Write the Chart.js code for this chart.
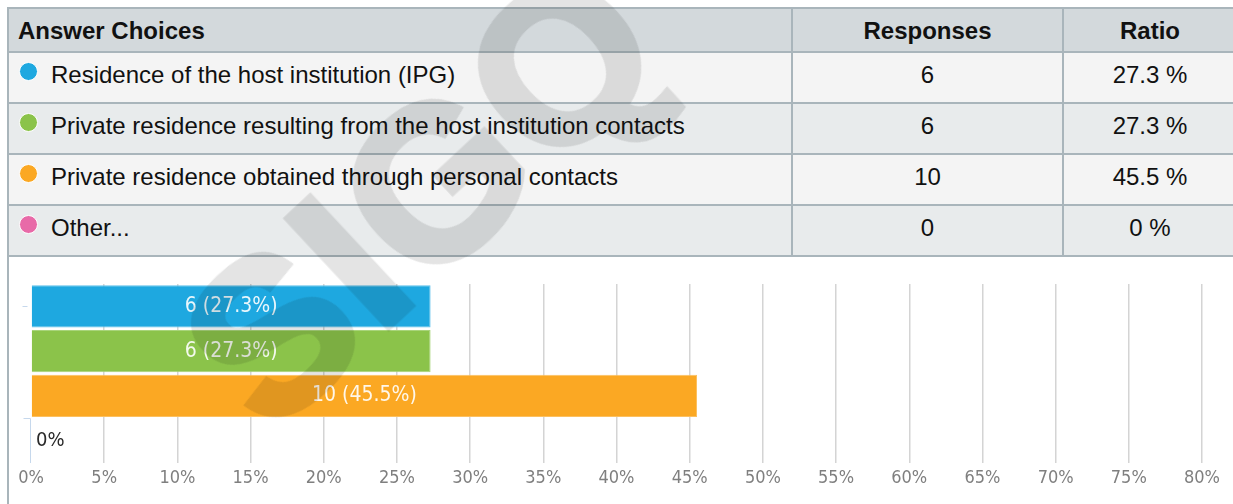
<!DOCTYPE html>
<html>
<head>
<meta charset="utf-8">
<script src="https://cdn.jsdelivr.net/npm/chart.js@4.4.1/dist/chart.umd.min.js"></script>
<style>
  html, body { margin: 0; padding: 0; background: #fff; width: 1233px; height: 504px; overflow: hidden; }
  body { position: relative; font-family: "Liberation Sans", Arial, sans-serif; color: #111; }
  #tbl {
    position: absolute; left: 7px; top: 7px;
    display: grid;
    grid-template-columns: 784px 271px 174px;
    grid-template-rows: 44px 51px 51px 51px 51px;
    border-left: 2px solid #a9b5bb; border-top: 2px solid #a9b5bb;
  }
  .c {
    box-sizing: border-box;
    border-right: 2px solid #a9b5bb; border-bottom: 2px solid #a9b5bb;
    display: flex; align-items: center;
    font-size: 24px; white-space: nowrap;
  }
  .h { background: #d3d9dc; font-weight: bold; padding-top: 2px; }
  .odd { background: #f4f4f4; padding-bottom: 5px; }
  .even { background: #e8ebec; padding-bottom: 5px; }
  .center { justify-content: center; }
  .first { padding-left: 9px; }
  .dot {
    display: inline-block; width: 17px; height: 17px; border-radius: 50%;
    border: 1px solid #fff; margin-left: 1px; margin-right: 13px; position: relative; top: -4px;
  }
  #chartWrap {
    position: absolute; left: 7px; top: 257px; width: 1226px; height: 247px;
    border-left: 2px solid #a9b5bb;
  }
  #chart { position: absolute; left: 0; top: 0; }
  #wm {
    position: absolute; left: 422px; top: 194px;
    transform: translate(-50%, -50%) rotate(-43deg);
    font-family: "Liberation Sans", Arial, sans-serif; font-weight: bold;
    font-size: 215px; line-height: 1; color: #000; letter-spacing: 4px;
    -webkit-text-stroke: 7px #000;
    opacity: 0.105;
    pointer-events: none; white-space: nowrap; z-index: 10;
  }
</style>
</head>
<body>
<div id="tbl"></div>
<div id="chartWrap"><canvas id="chart" width="1224" height="247"></canvas></div>
<div id="wm">SIGQ</div>
<script>
const headers = ['Answer Choices', 'Responses', 'Ratio'];
const categories = [
  'Residence of the host institution (IPG)',
  'Private residence resulting from the host institution contacts',
  'Private residence obtained through personal contacts',
  'Other...'
];
const responses = [6, 6, 10, 0];
const ratios = [27.3, 27.3, 45.5, 0];
const colors = ['#1ea8e0', '#8bc34a', '#fba823', '#e86aa8'];
const edgeColors = ['#5cc0ea', '#a8d47a', '#fcc060', '#f09ac4'];
const axisMax = 80;
const axisStep = 5;
const chartFont = '"DejaVu Sans Condensed", "DejaVu Sans"';

// table
const tbl = document.getElementById('tbl');
function cell(cls, html) {
  const d = document.createElement('div');
  d.className = 'c ' + cls;
  d.innerHTML = html;
  tbl.appendChild(d);
}
cell('h first', headers[0]);
cell('h center', headers[1]);
cell('h center', headers[2]);
categories.forEach((cat, i) => {
  const rc = i % 2 === 0 ? 'odd' : 'even';
  cell(rc + ' first', '<span class="dot" style="background:' + colors[i] + '"></span>' + cat);
  cell(rc + ' center', String(responses[i]));
  cell(rc + ' center', ratios[i] + ' %');
});

// chart
const labelPlugin = {
  id: 'barLabels',
  afterDatasetsDraw(chart) {
    const ctx = chart.ctx;
    const meta = chart.getDatasetMeta(0);
    const xs = chart.scales.x;
    ctx.save();
    ctx.textBaseline = 'middle';
    meta.data.forEach((bar, i) => {
      if (ratios[i] > 0) {
        ctx.font = '21px ' + chartFont;
        ctx.fillStyle = 'rgba(255,255,255,0.9)';
        ctx.textAlign = 'center';
        ctx.fillText(responses[i] + ' (' + ratios[i] + '%)', (bar.base + bar.x) / 2, bar.y);
      } else {
        ctx.font = '20px ' + chartFont;
        ctx.fillStyle = '#2a2a2a';
        ctx.textAlign = 'left';
        ctx.fillText('0%', xs.getPixelForValue(0) + 5, bar.y);
      }
    });
    ctx.restore();
  }
};
const axisMarks = {
  id: 'axisMarks',
  afterDraw(chart) {
    const ctx = chart.ctx, xs = chart.scales.x, ys = chart.scales.y;
    const x0 = Math.round(xs.getPixelForValue(0)) - 0.5;
    ctx.save();
    ctx.strokeStyle = '#c6d8ec';
    ctx.lineWidth = 1;
    ctx.beginPath();
    const yt = Math.round(ys.getPixelForValue(0)) + 0.5;
    ctx.moveTo(x0 - 8, yt); ctx.lineTo(x0 - 3, yt);
    const yb = Math.round(ys.getPixelForValue(2.5)) + 0.5;
    ctx.moveTo(x0 - 7, yb); ctx.lineTo(x0, yb); ctx.lineTo(x0, chart.chartArea.bottom);
    ctx.stroke();
    ctx.restore();
  }
};

new Chart(document.getElementById('chart'), {
  type: 'bar',
  data: {
    labels: categories,
    datasets: [{
      data: ratios,
      backgroundColor: colors,
      borderColor: edgeColors,
      borderWidth: 1,
      barPercentage: 0.94,
      categoryPercentage: 1
    }]
  },
  options: {
    indexAxis: 'y',
    responsive: false,
    animation: false,
    devicePixelRatio: 1,
    layout: { padding: { left: 22, right: 31, top: 27, bottom: 0 } },
    plugins: { legend: { display: false }, tooltip: { enabled: false } },
    scales: {
      x: {
        min: 0, max: axisMax,
        afterFit(scale) { scale.height = 41; },
        border: { display: false },
        grid: {
          drawTicks: false,
          lineWidth: 1.5,
          color: (c) => c.index === 0 ? 'rgba(0,0,0,0)' : '#d4d4d4'
        },
        ticks: {
          stepSize: axisStep,
          padding: 5,
          color: '#7f7f7f',
          font: { family: chartFont, size: 18 },
          callback: (v) => v + '%'
        }
      },
      y: { display: false }
    }
  },
  plugins: [labelPlugin, axisMarks]
});
</script>
</body>
</html>
